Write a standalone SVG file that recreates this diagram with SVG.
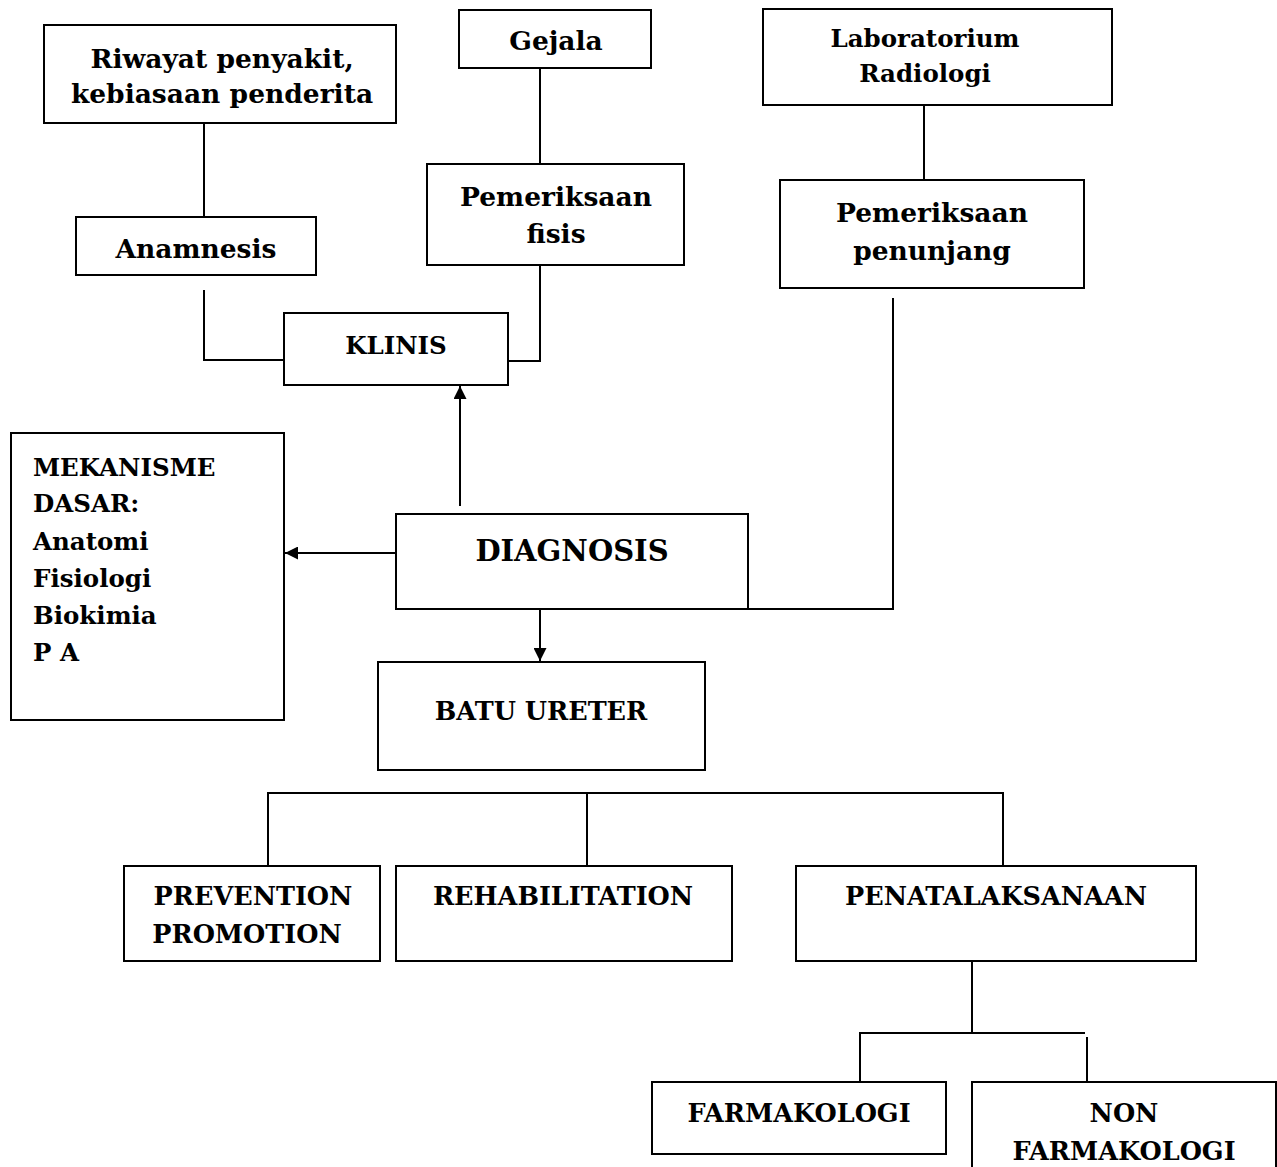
<svg xmlns="http://www.w3.org/2000/svg" width="1277" height="1167" viewBox="0 0 1277 1167">
<style>
rect{fill:#fff;stroke:#000;stroke-width:2}
text{font-family:"DejaVu Serif","Liberation Serif",serif;font-weight:bold;font-size:24.5px;fill:#000}
.c{text-anchor:middle}
.big{font-size:26.5px}
.cap{font-size:25.5px}
#connectors path,#connectors line{fill:none;stroke:#000;stroke-width:2}
</style>
<defs>
<marker id="ah" viewBox="0 0 10 10" refX="10" refY="5" markerWidth="15" markerHeight="13" orient="auto" markerUnits="userSpaceOnUse">
<path d="M0,0 L10,5 L0,10 z" fill="#000"/>
</marker>
</defs>
<g id="connectors">
<line x1="204" y1="123" x2="204" y2="217"/>
<path d="M204,290 V360 H284"/>
<line x1="540" y1="68" x2="540" y2="164"/>
<path d="M540,265 V361 H508"/>
<line x1="924" y1="105" x2="924" y2="180"/>
<path d="M893,298 V609 H748"/>
<line x1="460" y1="506" x2="460" y2="386" marker-end="url(#ah)"/>
<line x1="396" y1="553" x2="285" y2="553" marker-end="url(#ah)"/>
<line x1="540" y1="609" x2="540" y2="661" marker-end="url(#ah)"/>
<path d="M268,866 V793 H1003 V866"/>
<line x1="587" y1="793" x2="587" y2="866"/>
<line x1="972" y1="961" x2="972" y2="1033"/>
<path d="M860,1081 V1033 H1085"/>
<line x1="1087" y1="1037" x2="1087" y2="1081"/>
</g>
<g id="riwayat"><rect x="44" y="25" width="352" height="98"/>
<text class="c big" x="222" y="68">Riwayat penyakit,</text>
<text class="c big" x="222" y="103">kebiasaan penderita</text></g>
<g id="gejala"><rect x="459" y="10" width="192" height="58"/>
<text class="c big" x="556" y="50">Gejala</text></g>
<g id="lab"><rect x="763" y="9" width="349" height="96"/>
<text class="c" x="925" y="47">Laboratorium</text>
<text class="c" x="925" y="82">Radiologi</text></g>
<g id="anamnesis"><rect x="76" y="217" width="240" height="58"/>
<text class="c big" x="196" y="258">Anamnesis</text></g>
<g id="fisis"><rect x="427" y="164" width="257" height="101"/>
<text class="c big" x="556" y="206">Pemeriksaan</text>
<text class="c big" x="556" y="243">fisis</text></g>
<g id="penunjang"><rect x="780" y="180" width="304" height="108"/>
<text class="c big" x="932" y="222">Pemeriksaan</text>
<text class="c big" x="932" y="260">penunjang</text></g>
<g id="klinis"><rect x="284" y="313" width="224" height="72"/>
<text class="c" x="396" y="354">KLINIS</text></g>
<g id="mekanisme"><rect x="11" y="433" width="273" height="287"/>
<text x="33" y="476">MEKANISME</text>
<text x="33" y="512">DASAR:</text>
<text x="33" y="550">Anatomi</text>
<text x="33" y="587">Fisiologi</text>
<text x="33" y="624">Biokimia</text>
<text x="33" y="661">P A</text></g>
<g id="diagnosis"><rect x="396" y="514" width="352" height="95"/>
<text class="c" x="572" y="561" style="font-size:29px">DIAGNOSIS</text></g>
<g id="batu"><rect x="378" y="662" width="327" height="108"/>
<text class="c cap" x="541" y="720">BATU URETER</text></g>
<g id="prevention"><rect x="124" y="866" width="256" height="95"/>
<text class="c cap" x="253" y="905">PREVENTION</text>
<text class="c cap" x="247" y="943">PROMOTION</text></g>
<g id="rehab"><rect x="396" y="866" width="336" height="95"/>
<text class="c cap" x="563" y="905">REHABILITATION</text></g>
<g id="penatalaksanaan"><rect x="796" y="866" width="400" height="95"/>
<text class="c cap" x="996" y="905">PENATALAKSANAAN</text></g>
<g id="farmakologi"><rect x="652" y="1082" width="294" height="72"/>
<text class="c cap" x="799" y="1122">FARMAKOLOGI</text></g>
<g id="nonfarmakologi"><rect x="972" y="1082" width="304" height="100"/>
<text class="c cap" x="1124" y="1122">NON</text>
<text class="c cap" x="1124" y="1160">FARMAKOLOGI</text></g>
</svg>
